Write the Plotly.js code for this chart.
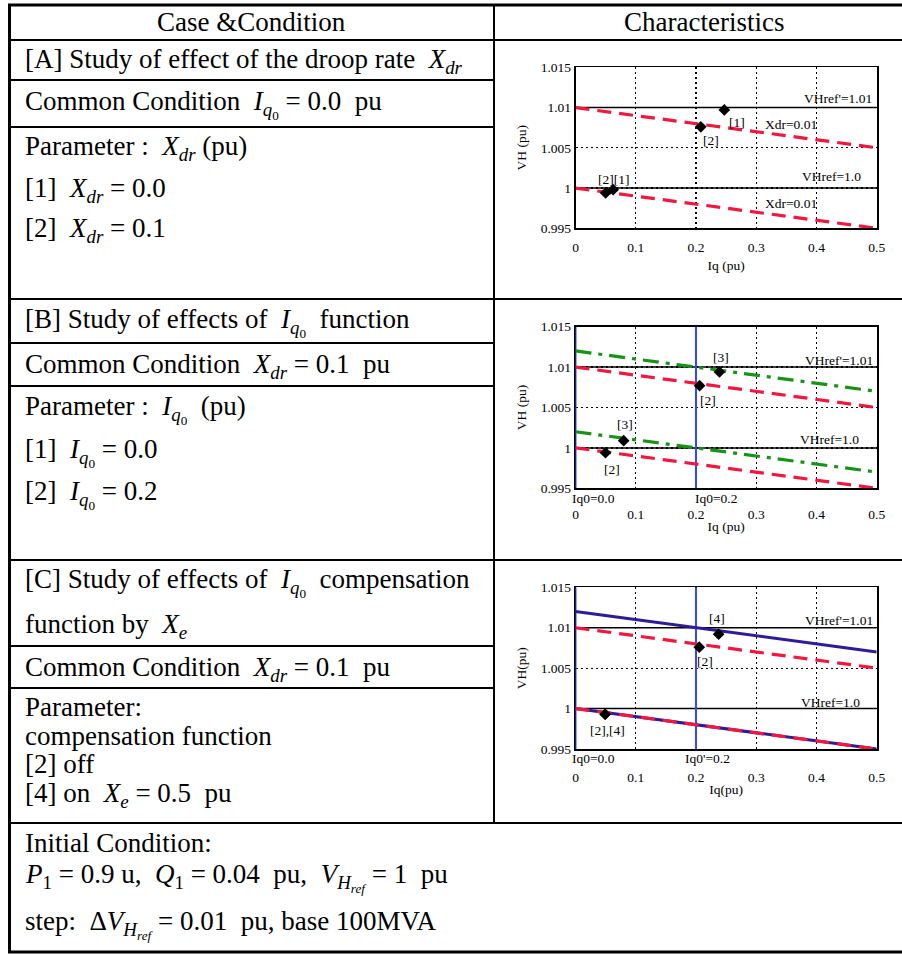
<!DOCTYPE html>
<html>
<head>
<meta charset="utf-8">
<script src="https://cdn.plot.ly/plotly-3.0.1.min.js"></script>
<style>
  html, body { margin: 0; padding: 0; background: #fff; }
  #fig { width: 902px; height: 954px; }
</style>
</head>
<body>
<div id="fig"></div>
<script>
// ---------- data ----------
const iqEnds = [0, 0.5];                 // Iq span of every characteristic line (pu)
const vhRefLevels = [1.0, 1.01];         // VHref before / after the step
const xTickVals = [0, 0.1, 0.2, 0.3, 0.4, 0.5];
const xTickText = ['0', '0.1', '0.2', '0.3', '0.4', '0.5'];
const yTickVals = [0.995, 1.0, 1.005, 1.01, 1.015];
const yTickText = ['0.995', '1', '1.005', '1.01', '1.015'];

// droop characteristics (Xdr = 0.01), shared by all cases
const droopHi = [1.010, 1.005];
const droopLo = [1.000, 0.995];

// [A] operating points
const caseA1Iq = [0.0625, 0.247];
const caseA1Vh = [0.9998, 1.0097];
const caseA2Iq = [0.050, 0.208];
const caseA2Vh = [0.9994, 1.0076];

// [B] Iq0 function
const iq0LinesB = [0.0, 0.2];
const shiftHiB = [1.012, 1.007];
const shiftLoB = [1.002, 0.997];
const caseB2Iq = [0.0497, 0.206];
const caseB2Vh = [0.9994, 1.0077];
const caseB3Iq = [0.080, 0.239];
const caseB3Vh = [1.0009, 1.0094];

// [C] Iq0 compensation by Xe
const iq0LinesC = [0.0, 0.2];
const compHiC = [1.012, 1.007];
const compLoC = [1.000, 0.995];
const caseC2Iq = [0.0492, 0.2055];
const caseC2Vh = [0.9993, 1.0076];
const caseC4Iq = [0.0492, 0.2376];
const caseC4Vh = [0.9993, 1.0092];

// ---------- helpers ----------
const W = 902, H = 954;
const px = x => x / W;
const py = y => 1 - y / H;

const RED = '#f2173f', GREEN = '#179417', NAVY = '#2e1b98', BLUE = '#3246ff';
const SERIF = "'Liberation Serif', 'Times New Roman', Times, serif";

function lineTrace(ax, xs, ys, color, width, dash) {
  return { type: 'scatter', mode: 'lines', x: xs, y: ys, xaxis: 'x' + ax, yaxis: 'y' + ax,
           line: { color: color, width: width, dash: dash || 'solid' }, hoverinfo: 'skip' };
}
function markTrace(ax, xs, ys) {
  return { type: 'scatter', mode: 'markers', x: xs, y: ys, xaxis: 'x' + ax, yaxis: 'y' + ax,
           marker: { symbol: 'diamond', size: 9, color: '#000' }, hoverinfo: 'skip' };
}
function refTraces(ax) {
  return vhRefLevels.map(v => lineTrace(ax, iqEnds, [v, v], '#000', 1.5));
}
function iq0Traces(ax, vals) {
  return vals.map(v => lineTrace(ax, [v, v], [yTickVals[0], yTickVals[yTickVals.length - 1]], BLUE, 2));
}

const RED_DASH = '14px,8px';
const GREEN_DASH = '16px,7px,4px,7px';

const traces = [
  // panel A
  ...refTraces(''),
  lineTrace('', iqEnds, droopHi, RED, 3.2, RED_DASH),
  lineTrace('', iqEnds, droopLo, RED, 3.2, RED_DASH),
  markTrace('', caseA1Iq, caseA1Vh),
  markTrace('', caseA2Iq, caseA2Vh),
  // panel B
  ...refTraces('2'),
  ...iq0Traces('2', iq0LinesB),
  lineTrace('2', iqEnds, droopHi, RED, 3.2, RED_DASH),
  lineTrace('2', iqEnds, droopLo, RED, 3.2, RED_DASH),
  lineTrace('2', iqEnds, shiftHiB, GREEN, 3.2, GREEN_DASH),
  lineTrace('2', iqEnds, shiftLoB, GREEN, 3.2, GREEN_DASH),
  markTrace('2', caseB2Iq, caseB2Vh),
  markTrace('2', caseB3Iq, caseB3Vh),
  // panel C
  ...refTraces('3'),
  ...iq0Traces('3', iq0LinesC),
  lineTrace('3', iqEnds, compHiC, NAVY, 3),
  lineTrace('3', iqEnds, compLoC, NAVY, 3),
  lineTrace('3', iqEnds, droopHi, RED, 3.2, RED_DASH),
  lineTrace('3', iqEnds, droopLo, RED, 3.2, RED_DASH),
  markTrace('3', caseC2Iq, caseC2Vh),
  markTrace('3', caseC4Iq, caseC4Vh),
];

// ---------- axes ----------
const PLOT_L = 575.5, PLOT_R = 876.7;
function xAxis(anchor, tickGap, title, standoff, layer) {
  return {
    domain: [px(PLOT_L), px(PLOT_R)], range: [0, 0.5], anchor: anchor,
    tickmode: 'array', tickvals: xTickVals, ticktext: xTickText,
    ticks: 'outside', ticklen: tickGap, tickcolor: 'rgba(0,0,0,0)',
    showgrid: true, gridcolor: '#000', gridwidth: 1.3, griddash: '2px,3px',
    showline: true, mirror: true, linecolor: '#000', linewidth: 1.8,
    zeroline: false, fixedrange: true, layer: layer || 'above traces',
    tickfont: { family: SERIF, size: 13.5, color: '#000' },
    title: { text: title, standoff: standoff, font: { family: SERIF, size: 13.5, color: '#000' } }
  };
}
function yAxis(anchor, top, bottom, title, layer) {
  return {
    domain: [py(bottom), py(top)], range: [0.995, 1.015], anchor: anchor,
    tickmode: 'array', tickvals: yTickVals, ticktext: yTickText,
    ticks: '', showgrid: true, gridcolor: '#000', gridwidth: 1.3, griddash: '2px,3px',
    showline: true, mirror: true, linecolor: '#000', linewidth: 1.8,
    zeroline: false, fixedrange: true, layer: layer || 'above traces',
    tickfont: { family: SERIF, size: 13.5, color: '#000' },
    title: { text: title, standoff: 11, font: { family: SERIF, size: 13.5, color: '#000' } }
  };
}

// ---------- table rules ----------
const COL = 494, LEFT = 9.5, RIGHT = 902, TOP = 5, BOT = 952;
function hRule(y, x0, x1, w) {
  return { type: 'line', xref: 'paper', yref: 'paper', x0: px(x0), x1: px(x1), y0: py(y), y1: py(y),
           line: { color: '#000', width: w } };
}
function vRule(x, y0, y1, w) {
  return { type: 'line', xref: 'paper', yref: 'paper', x0: px(x), x1: px(x), y0: py(y0), y1: py(y1),
           line: { color: '#000', width: w } };
}
const shapes = [
  hRule(TOP, LEFT - 1.5, RIGHT, 3),
  hRule(BOT, LEFT - 1.5, RIGHT, 3),
  vRule(LEFT, TOP, BOT, 3),
  vRule(COL, TOP, 823, 2),
  hRule(40, LEFT, RIGHT, 2),
  hRule(80, LEFT, COL, 2),
  hRule(127, LEFT, COL, 2),
  hRule(299, LEFT, RIGHT, 2),
  hRule(343, LEFT, COL, 2),
  hRule(386, LEFT, COL, 2),
  hRule(560, LEFT, RIGHT, 2),
  hRule(646, LEFT, COL, 2),
  hRule(688, LEFT, COL, 2),
  hRule(823, LEFT, RIGHT, 2),
];

// ---------- text ----------
const Xdr = '<i>X</i><sub><i>dr</i></sub>';
const Iq0 = '<i>I</i><sub><i>q</i><sub>0</sub></sub>';
const Xe = '<i>X</i><sub><i>e</i></sub>';
const VHref = '<i>V</i><sub><i>H</i><sub><i>ref</i></sub></sub>';
const S = '\u00a0';

function cellText(y, text, x, anchor) {
  return { xref: 'paper', yref: 'paper', x: px(x === undefined ? 23 : x), y: py(y),
           xanchor: anchor || 'left', yanchor: 'middle', align: 'left', showarrow: false, text: text,
           font: { family: SERIF, size: 27, color: '#000' } };
}
function plotText(x, y, text, anchor) {
  return { xref: 'paper', yref: 'paper', x: px(x), y: py(y), xanchor: anchor || 'center', yanchor: 'middle',
           showarrow: false, text: text, font: { family: SERIF, size: 13.5, color: '#000' } };
}

const annotations = [
  cellText(22, 'Case &Condition', 252, 'center'),
  cellText(22, 'Characteristics', 704, 'center'),
  // [A]
  cellText(61, '[A] Study of effect of the droop rate ' + S + Xdr),
  cellText(104, 'Common Condition ' + S + Iq0 + ' = 0.0 ' + S + 'pu'),
  cellText(148, 'Parameter : ' + S + Xdr + ' (pu)'),
  cellText(190, '[1] ' + S + Xdr + ' = 0.0'),
  cellText(230, '[2] ' + S + Xdr + ' = 0.1'),
  // [B]
  cellText(322, '[B] Study of effects of ' + S + Iq0 + S + ' function'),
  cellText(366, 'Common Condition ' + S + Xdr + ' = 0.1 ' + S + 'pu'),
  cellText(409, 'Parameter : ' + S + Iq0 + S + ' (pu)'),
  cellText(452, '[1] ' + S + Iq0 + ' = 0.0'),
  cellText(494, '[2] ' + S + Iq0 + ' = 0.2'),
  // [C]
  cellText(582, '[C] Study of effects of ' + S + Iq0 + S + ' compensation'),
  cellText(626, 'function by ' + S + Xe),
  cellText(669, 'Common Condition ' + S + Xdr + ' = 0.1 ' + S + 'pu'),
  cellText(707, 'Parameter:'),
  cellText(736, 'compensation function'),
  cellText(764, '[2] off'),
  cellText(795, '[4] on ' + S + Xe + ' = 0.5 ' + S + 'pu'),
  // initial condition
  cellText(843, 'Initial Condition:'),
  cellText(877, '<i>P</i><sub>1</sub> = 0.9 u, ' + S + '<i>Q</i><sub>1</sub> = 0.04 ' + S + 'pu, ' + S + VHref + ' = 1 ' + S + 'pu'),
  cellText(924, 'step: ' + S + 'Δ' + VHref + ' = 0.01 ' + S + 'pu, base 100MVA'),

  // panel A labels
  plotText(874, 98, "VHref'=1.01", 'right'),
  plotText(737, 122, '[1]'),
  plotText(791, 124, 'Xdr=0.01'),
  plotText(711, 140, '[2]'),
  plotText(613, 179, '[2][1]'),
  plotText(831, 177, 'VHref=1.0'),
  plotText(791, 204, 'Xdr=0.01'),
  // panel B labels
  plotText(721, 357, '[3]'),
  plotText(875, 360, "VHref'=1.01", 'right'),
  plotText(708, 401, '[2]'),
  plotText(625, 424, '[3]'),
  plotText(829, 439, 'VHref=1.0'),
  plotText(612, 469, '[2]'),
  plotText(593, 498, 'Iq0=0.0'),
  plotText(716, 498, 'Iq0=0.2'),
  // panel C labels
  plotText(717, 618, '[4]'),
  plotText(875, 620, "VHref'=1.01", 'right'),
  plotText(705, 661, '[2]'),
  plotText(830, 702, 'VHref=1.0'),
  plotText(607, 730, '[2],[4]'),
  plotText(593, 758, 'Iq0=0.0'),
  plotText(707, 758, "Iq0'=0.2"),
];

const layout = {
  width: W, height: H,
  margin: { l: 0, r: 0, t: 0, b: 0, pad: 0 },
  paper_bgcolor: '#fff', plot_bgcolor: '#fff',
  showlegend: false, hovermode: false,
  font: { family: SERIF, color: '#000' },
  xaxis:  xAxis('y', 6, 'Iq (pu)', 6),
  yaxis:  yAxis('x', 67.3, 228.3, 'VH (pu)'),
  xaxis2: xAxis('y2', 13, 'Iq (pu)', 0, 'below traces'),
  yaxis2: yAxis('x2', 326.7, 488.3, 'VH (pu)', 'below traces'),
  xaxis3: xAxis('y3', 15, 'Iq(pu)', 0, 'below traces'),
  yaxis3: yAxis('x3', 587.3, 749, 'VH(pu)', 'below traces'),
  shapes: shapes,
  annotations: annotations
};

Plotly.newPlot('fig', traces, layout, { staticPlot: true, displayModeBar: false });
</script>
</body>
</html>
